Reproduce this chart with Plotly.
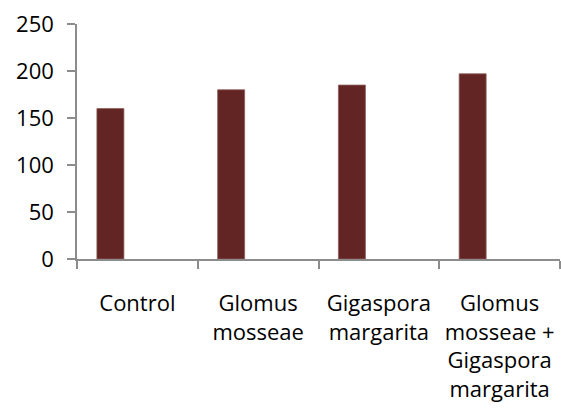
import plotly.graph_objects as go

categories = ["Control", "Glomus<br>mosseae", "Gigaspora<br>margarita",
              "Glomus<br>mosseae +<br>Gigaspora<br>margarita"]
values = [160, 180, 185, 197]
empty_a = [None, None, None, None]
empty_b = [None, None, None, None]
y_ticks = [0, 50, 100, 150, 200, 250]

fig = go.Figure()
fig.add_trace(go.Bar(x=categories, y=values, marker=dict(color="#632523",
                     line=dict(color="#8a5a58", width=0.8)), showlegend=False))
fig.add_trace(go.Bar(x=categories, y=empty_a, showlegend=False))
fig.add_trace(go.Bar(x=categories, y=empty_b, showlegend=False))

font = dict(family="Open Sans, sans-serif", size=22, color="#000000")
fig.update_layout(
    width=561, height=411,
    margin=dict(l=77, r=1, t=24, b=152),
    paper_bgcolor="white", plot_bgcolor="white",
    barmode="group", bargap=0.33, bargroupgap=0,
    font=font,
)
fig.update_xaxes(
    type="category", tickson="boundaries", showline=True,
    linecolor="#8c8c8c", linewidth=1.5, ticks="outside", ticklen=8,
    tickcolor="#8c8c8c", tickwidth=1.5, showgrid=False, tickfont=font,
    ticklabelstandoff=24, automargin=False,
)
fig.update_yaxes(
    range=[0, 250], tickvals=y_ticks, showline=True, linecolor="#8c8c8c",
    linewidth=1.5, ticks="outside", ticklen=8, tickcolor="#8c8c8c",
    tickwidth=1.5, showgrid=False, zeroline=False, tickfont=font,
    ticklabelstandoff=9, automargin=False,
)
fig.write_html(
    "out.html",
    config={"displayModeBar": False},
    post_script="document.body.style.margin='0';document.body.style.overflow='hidden';",
)
